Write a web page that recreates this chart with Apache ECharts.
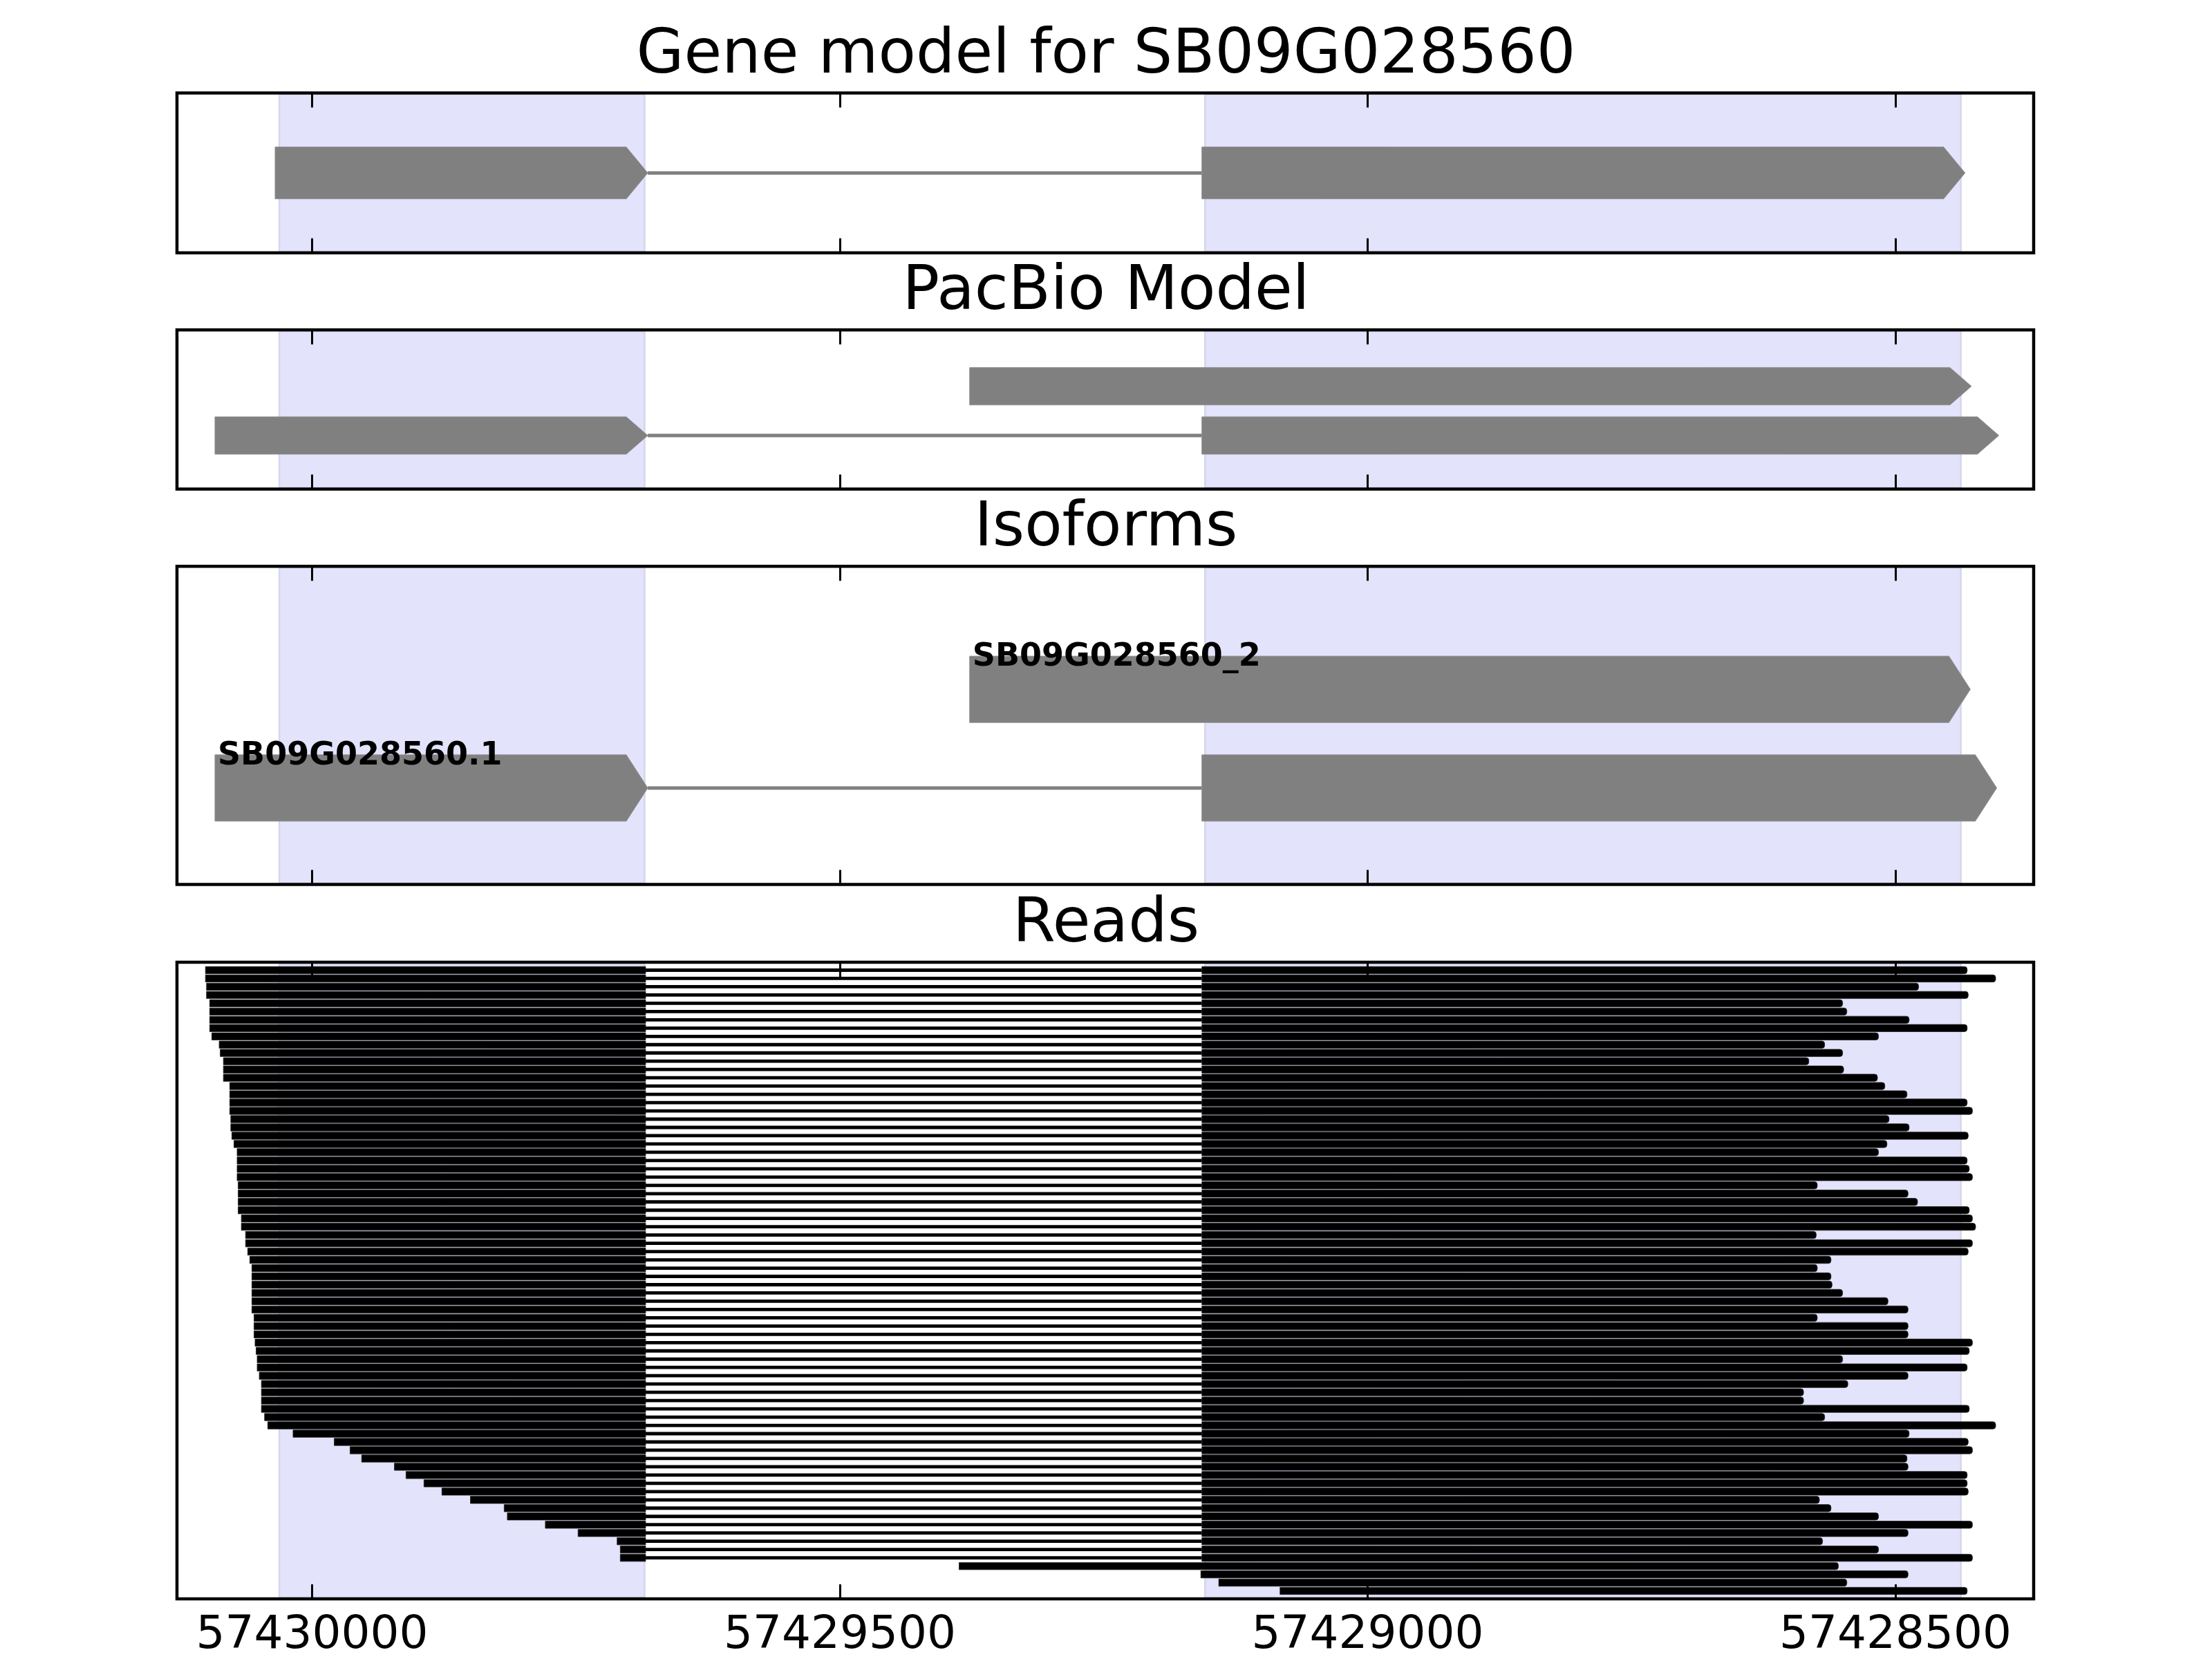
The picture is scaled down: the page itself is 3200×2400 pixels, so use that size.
<!DOCTYPE html>
<html><head><meta charset="utf-8">
<script src="https://cdn.jsdelivr.net/npm/echarts@6/dist/echarts.min.js"></script>
<style>html,body{margin:0;padding:0;background:#fff}#c{width:3200px;height:2400px}</style>
</head><body><div id="c"></div>
<script>
// ---------------- data ----------------
const X_MIN = 57428369, X_MAX = 57430128;
const tickValues = [57430000, 57429500, 57429000, 57428500];
const panelTitles = ['Gene model for SB09G028560', 'PacBio Model', 'Isoforms', 'Reads'];

const shadeStart = [57430031, 57429154];
const shadeEnd   = [57429685, 57428438];

const geneExonRow   = [0, 0];
const geneExonStart = [57430035, 57429157];
const geneExonEnd   = [57429682, 57428434];

const pacbioExonRow   = [0, 1, 1];
const pacbioExonStart = [57429377, 57430092, 57429157];
const pacbioExonEnd   = [57428428, 57429682, 57428402];

const isoformNames     = ['SB09G028560_2', 'SB09G028560.1'];
const isoformExonRow   = [0, 1, 1];
const isoformExonStart = [57429377, 57430092, 57429157];
const isoformExonEnd   = [57428429, 57429682, 57428404];

const readIntronLeft = 57429684, readIntronRight = 57429157;
const readStart = [57430101,57430101,57430100,57430100,57430097,57430097,57430097,57430097,57430095,57430088,
 57430087,57430084,57430084,57430084,57430078,57430078,57430078,57430078,57430077,57430077,
 57430076,57430074,57430071,57430071,57430071,57430071,57430070,57430070,57430070,57430070,
 57430067,57430067,57430063,57430063,57430061,57430059,57430057,57430057,57430057,57430057,
 57430057,57430057,57430055,57430055,57430055,57430054,57430053,57430052,57430052,57430050,
 57430048,57430048,57430048,57430048,57430045,57430042,57430018,57429979,57429964,57429953,
 57429922,57429911,57429894,57429877,57429850,57429818,57429815,57429779,57429748,57429711,
 57429708,57429708,57429387,57429158,57429141,57429083];
const readEnd = [57428432,57428405,57428478,57428431,57428550,57428546,57428487,57428432,57428516,57428567,
 57428550,57428582,57428549,57428517,57428510,57428489,57428432,57428427,57428506,57428487,
 57428431,57428508,57428516,57428432,57428430,57428427,57428574,57428488,57428479,57428430,
 57428427,57428424,57428575,57428427,57428431,57428561,57428574,57428561,57428560,57428550,
 57428507,57428488,57428574,57428488,57428488,57428427,57428430,57428550,57428432,57428488,
 57428545,57428587,57428587,57428430,57428567,57428405,57428487,57428431,57428427,57428489,
 57428488,57428432,57428432,57428431,57428572,57428561,57428516,57428427,57428488,57428569,
 57428516,57428427,57428554,57428488,57428546,57428432];

// ---------------- layout / style ----------------
const FONT = 'DejaVu Sans';
const gridLeft = 256, gridWidth = 2686;
const gridTops = [134.5, 477.2, 819.3, 1392];
const gridHeights = [231.3, 230.3, 460.3, 921.5];
const yRanges = [[-1, 1], [-1.146, 2.088], [-1.247, 1.979], [-0.96, 75.96]];
const barPx = [75, 54, 96];
const HEAD = 20.3;
const GRAY = '#808080';

function exonData(rows, starts, ends) { return starts.map((s, i) => [s, ends[i], rows[i]]); }
function intronData(rows, starts, ends) {
  const out = [];
  const byRow = {};
  starts.forEach((s, i) => { (byRow[rows[i]] = byRow[rows[i]] || []).push([s, ends[i]]); });
  Object.keys(byRow).forEach(r => {
    const ex = byRow[r].sort((a, b) => b[0] - a[0]);
    for (let k = 0; k + 1 < ex.length; k++) out.push([ex[k][1], ex[k + 1][0], +r]);
  });
  return out;
}

function shadeItem(params, api) {
  const a = api.coord([api.value(0), 0]), b = api.coord([api.value(1), 0]);
  const cs = params.coordSys;
  return { type: 'rect', shape: { x: Math.min(a[0], b[0]), y: cs.y + 2, width: Math.abs(b[0] - a[0]), height: cs.height - 4 },
    style: { fill: '#e3e3fc', stroke: '#d5d5ee', lineWidth: 2.5 } };
}
function arrowItem(h) {
  return function (params, api) {
    const s = api.value(0), e = api.value(1), r = api.value(2);
    const p0 = api.coord([s, r]), pt = api.coord([e, r]), pf = api.coord([e + HEAD, r]);
    const y = p0[1], hh = h / 2;
    return { type: 'polygon', shape: { points: [[p0[0], y - hh], [pf[0], y - hh], [pt[0], y], [pf[0], y + hh], [p0[0], y + hh]] },
      style: { fill: GRAY, stroke: '#8e8e8e', lineWidth: 1 } };
  };
}
function intronItem(params, api) {
  const a = api.coord([api.value(0), api.value(2)]), b = api.coord([api.value(1), api.value(2)]);
  return { type: 'line', shape: { x1: a[0], y1: a[1], x2: b[0], y2: b[1] }, style: { stroke: GRAY, lineWidth: 5 } };
}
function labelItem(h) {
  return function (params, api) {
    const p = api.coord([api.value(0), api.value(1)]);
    return { type: 'text', x: p[0] + 4, y: p[1] - h / 2 + 2,
      style: { text: isoformNames[api.value(2)], font: 'bold 46px "' + FONT + '"', fill: '#000', align: 'left', verticalAlign: 'middle' } };
  };
}
function readItem(params, api) {
  const s = api.value(0), e = api.value(1), r = api.value(2);
  const y = api.coord([s, r])[1];
  const x = v => api.coord([v, r])[0];
  const th = 10.4, ith = 4.8, ch = [];
  if (s > readIntronLeft) {
    ch.push({ type: 'rect', shape: { x: x(s), y: y - th / 2, width: x(readIntronLeft) - x(s), height: th }, style: { fill: '#000', stroke: '#222', lineWidth: 0.8 } });
    ch.push({ type: 'rect', shape: { x: x(readIntronLeft), y: y - ith / 2, width: x(readIntronRight) - x(readIntronLeft), height: ith }, style: { fill: '#000' } });
    ch.push({ type: 'rect', shape: { x: x(readIntronRight), y: y - th / 2, width: x(e) - x(readIntronRight), height: th, r: [0, 4, 4, 0] }, style: { fill: '#000', stroke: '#222', lineWidth: 0.8 } });
  } else {
    ch.push({ type: 'rect', shape: { x: x(s), y: y - th / 2, width: x(e) - x(s), height: th, r: [0, 4, 4, 0] }, style: { fill: '#000', stroke: '#222', lineWidth: 0.8 } });
  }
  return { type: 'group', children: ch };
}

const grid = gridTops.map((t, i) => ({ left: gridLeft, width: gridWidth, top: t, height: gridHeights[i], show: true, borderColor: '#000', borderWidth: 4.5, backgroundColor: 'transparent', z: 6 }));
const xAxis = [];
gridTops.forEach((t, i) => {
  ['bottom', 'top'].forEach(pos => {
    xAxis.push({ type: 'value', gridIndex: i, position: pos, min: X_MIN, max: X_MAX, inverse: true, z: 5,
      axisLine: { show: false, onZero: false }, splitLine: { show: false },
      axisTick: { show: true, inside: true, length: 21, customValues: tickValues, lineStyle: { color: '#000', width: 3 } },
      axisLabel: { show: i === 3 && pos === 'bottom', customValues: tickValues, margin: 21, fontFamily: FONT, fontSize: 66, lineHeight: 66, color: '#000', formatter: v => String(v) } });
  });
});
const yAxis = yRanges.map((r, i) => ({ type: 'value', gridIndex: i, min: r[0], max: r[1], inverse: true, show: false }));

const series = [];
const shadeData = shadeStart.map((s, i) => [s, shadeEnd[i]]);
[0, 1, 2, 3].forEach(i => series.push({ type: 'custom', xAxisIndex: 2 * i, yAxisIndex: i, z: 1, silent: true, data: shadeData, renderItem: shadeItem, encode: { x: [0, 1] } }));
const panels = [[geneExonRow, geneExonStart, geneExonEnd], [pacbioExonRow, pacbioExonStart, pacbioExonEnd], [isoformExonRow, isoformExonStart, isoformExonEnd]];
panels.forEach((p, i) => {
  series.push({ type: 'custom', xAxisIndex: 2 * i, yAxisIndex: i, z: 2, silent: true, data: intronData(p[0], p[1], p[2]), renderItem: intronItem, encode: { x: [0, 1], y: 2 } });
  series.push({ type: 'custom', xAxisIndex: 2 * i, yAxisIndex: i, z: 3, silent: true, data: exonData(p[0], p[1], p[2]), renderItem: arrowItem(barPx[i]), encode: { x: [0, 1], y: 2 } });
});
const labelData = isoformNames.map((n, k) => {
  const starts = isoformExonStart.filter((s, j) => isoformExonRow[j] === k);
  return [Math.max.apply(null, starts), k, k];
});
series.push({ type: 'custom', xAxisIndex: 4, yAxisIndex: 2, z: 4, silent: true, data: labelData, renderItem: labelItem(barPx[2]), encode: { x: 0, y: 1 } });
series.push({ type: 'custom', xAxisIndex: 6, yAxisIndex: 3, z: 3, silent: true, data: readStart.map((s, i) => [s, readEnd[i], i]), renderItem: readItem, encode: { x: [0, 1], y: 2 } });

const title = panelTitles.map((t, i) => ({ text: t, left: 'center', top: gridTops[i] - 26.5 - 71, padding: 0,
  textStyle: { fontFamily: FONT, fontSize: 89, fontWeight: 'normal', color: '#000', lineHeight: 89 } }));

const chart = echarts.init(document.getElementById('c'), null, { renderer: 'canvas' });
chart.setOption({ backgroundColor: '#fff', animation: false, title, grid, xAxis, yAxis, series });
</script></body></html>
